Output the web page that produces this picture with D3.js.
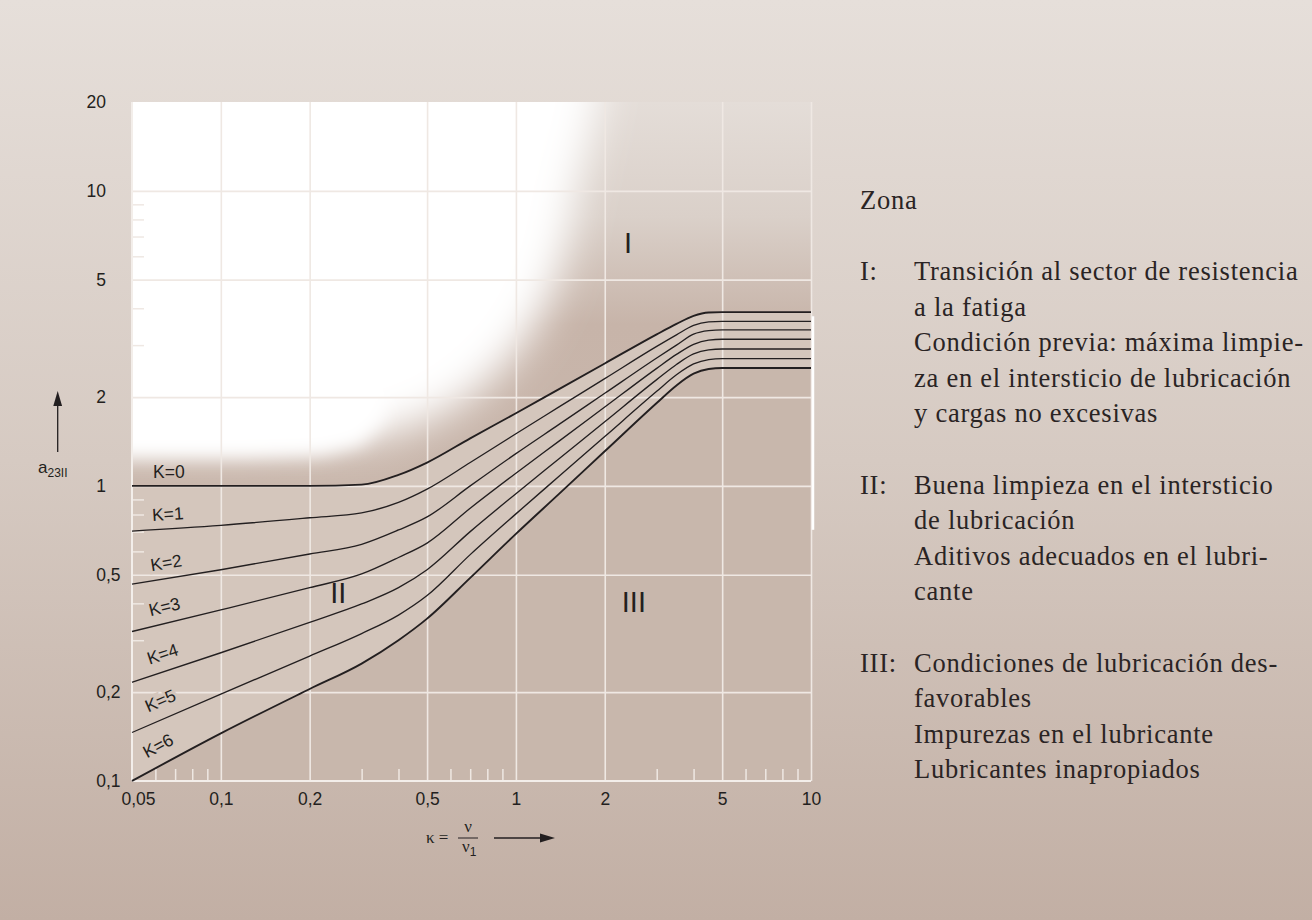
<!DOCTYPE html>
<html><head><meta charset="utf-8">
<script src="https://cdn.jsdelivr.net/npm/d3@7"></script>
<style>html,body{margin:0;padding:0;background:#d6cbc4;}</style>
</head><body>
<svg id="c" width="1312" height="920"></svg>
<script>
// ---------- data ----------
const kappa = [0.05,0.1,0.2,0.3,0.4,0.5,0.7,1,1.4,2,3,3.5,4,4.5,5,10];
const K0 = [1,1,1,1.01,1.09,1.2,1.45,1.763,2.129,2.6,3.263,3.54,3.77,3.87,3.88,3.88];
const K1 = [0.703,0.735,0.78,0.81,0.879,0.975,1.2,1.503,1.852,2.31,2.97,3.25,3.50,3.595,3.61,3.61];
const K2 = [0.465,0.52,0.588,0.634,0.709,0.785,1.0,1.286,1.616,2.06,2.714,3.0,3.27,3.36,3.38,3.38];
const K3 = [0.321,0.38,0.452,0.503,0.572,0.64,0.84,1.104,1.418,1.85,2.503,2.79,3.02,3.12,3.14,3.14];
const K4 = [0.216,0.272,0.345,0.398,0.452,0.52,0.70,0.941,1.236,1.65,2.292,2.58,2.80,2.89,2.91,2.91];
const K5 = [0.146,0.197,0.265,0.316,0.365,0.425,0.585,0.804,1.078,1.47,2.092,2.38,2.59,2.68,2.70,2.70];
const K6 = [0.1,0.145,0.205,0.25,0.30,0.355,0.488,0.688,0.94,1.31,1.91,2.19,2.40,2.49,2.51,2.51];
const seriesNames = ["K=0","K=1","K=2","K=3","K=4","K=5","K=6"];
const series = [K0,K1,K2,K3,K4,K5,K6];

const xMajor = [0.05,0.1,0.2,0.5,1,2,5,10];
const xMajorLabels = ["0,05","0,1","0,2","0,5","1","2","5","10"];
const xMinor = [0.06,0.07,0.08,0.09,0.3,0.4,0.6,0.7,0.8,0.9,3,4,6,7,8,9];
const yMajor = [0.1,0.2,0.5,1,2,5,10,20];
const yMajorLabels = ["0,1","0,2","0,5","1","2","5","10","20"];
const yMinor = [0.3,0.4,0.6,0.7,0.8,0.9,3,4,6,7,8,9];

// soft white zone (region I highlight), in data coordinates
const glowAK = [0.03,1.75,1.585,1.466,1.284,1.016,0.672,0.42,0.25,0.03];
const glowAA = [40,40,9.32,6.31,4.27,2.89,1.956,1.549,1.40,1.40];
const glowBK = [0.03,0.3,0.36,0.3,0.22,0.12,0.03];
const glowBA = [40,40,1.7,1.38,1.27,1.245,1.245];

const zoneLabels = ["I","II","III"];
const zoneK = [2.4,0.25,2.51];
const zoneA = [6.67,0.434,0.407];

const legendTitle = "Zona";
const legendKeys = ["I:","II:","III:"];
const legendLines = [
  ["Transición al sector de resistencia","a la fatiga","Condición previa: máxima limpie-","za en el intersticio de lubricación","y cargas no excesivas"],
  ["Buena limpieza en el intersticio","de lubricación","Aditivos adecuados en el lubri-","cante"],
  ["Condiciones de lubricación des-","favorables","Impurezas en el lubricante","Lubricantes inapropiados"]
];

// ---------- setup ----------
const svg = d3.select("#c");
const defs = svg.append("defs");
const W = 1312, H = 920;
const x = d3.scaleLog().domain([0.05,10]).range([132,811]);
const y = d3.scaleLog().domain([0.1,20]).range([781,102]);
const X0 = x.range()[0], X1 = x.range()[1], Y0 = y.range()[0], Y1 = y.range()[1];

const bg = defs.append("linearGradient").attr("id","bg").attr("x1",0).attr("y1",0).attr("x2",0).attr("y2",1);
bg.append("stop").attr("offset","0%").attr("stop-color","#e6dfda");
bg.append("stop").attr("offset","50%").attr("stop-color","#d6cac2");
bg.append("stop").attr("offset","100%").attr("stop-color","#c2afa4");
svg.append("rect").attr("width",W).attr("height",H).attr("fill","url(#bg)");

const gI = defs.append("linearGradient").attr("id","gI").attr("gradientUnits","userSpaceOnUse")
  .attr("x1",0).attr("y1",Y1).attr("x2",0).attr("y2",y(1));
gI.append("stop").attr("offset","0%").attr("stop-color","#e4ddd8");
gI.append("stop").attr("offset","30%").attr("stop-color","#dad0c9");
gI.append("stop").attr("offset","58%").attr("stop-color","#c7b4a9");
gI.append("stop").attr("offset","100%").attr("stop-color","#c9b7ac");

function blurFilter(id, sd){
  const f = defs.append("filter").attr("id",id).attr("filterUnits","userSpaceOnUse")
    .attr("x",0).attr("y",0).attr("width",W).attr("height",H);
  f.append("feGaussianBlur").attr("stdDeviation",sd);
}
blurFilter("blurA",20);
blurFilter("blurB",9);

const line = d3.line().x((d,i)=>x(kappa[i])).y(d=>y(d)).curve(d3.curveMonotoneX);

// clip: region above K=0
const areaI = d3.area().x((d,i)=>x(kappa[i])).y0(d=>y(d)).y1(Y1).curve(d3.curveMonotoneX);
defs.append("clipPath").attr("id","clipI").append("path").attr("d", areaI(K0));

// region III (plot background)
svg.append("rect").attr("x",X0).attr("y",Y1).attr("width",X1-X0).attr("height",Y0-Y1).attr("fill","#c8b7ac");
// region II
const areaII = d3.area().x((d,i)=>x(kappa[i])).y0((d,i)=>y(K6[i])).y1(d=>y(d)).curve(d3.curveMonotoneX);
svg.append("path").attr("d", areaII(K0)).attr("fill","#d4c6bc");
// region I
const gReg = svg.append("g").attr("clip-path","url(#clipI)");
gReg.append("rect").attr("x",X0).attr("y",Y1).attr("width",X1-X0).attr("height",Y0-Y1).attr("fill","url(#gI)");
const glowA = d3.line().x((d,i)=>x(glowAK[i])).y(d=>y(d)).curve(d3.curveCatmullRom);
const glowB = d3.line().x((d,i)=>x(glowBK[i])).y(d=>y(d)).curve(d3.curveLinear);
gReg.append("path").attr("d", glowA(glowAA)+"Z").attr("fill","#ffffff").attr("filter","url(#blurA)");
gReg.append("path").attr("d", glowB(glowBA)+"Z").attr("fill","#ffffff").attr("filter","url(#blurB)");

// gridlines
const gridCol = "#efe8e3";
svg.append("g").attr("transform",`translate(0,${Y0})`)
  .call(d3.axisBottom(x).tickValues(xMajor.slice(1)).tickSize(-(Y0-Y1)).tickFormat(""))
  .call(g=>g.select(".domain").remove())
  .call(g=>g.selectAll("line").attr("stroke",gridCol).attr("stroke-width",1.6));
svg.append("g").attr("transform",`translate(${X0},0)`)
  .call(d3.axisLeft(y).tickValues([0.2,0.5,1,2,5,10]).tickSize(-(X1-X0)).tickFormat(""))
  .call(g=>g.select(".domain").remove())
  .call(g=>g.selectAll("line").attr("stroke",gridCol).attr("stroke-width",1.6));
// minor ticks
svg.append("g").attr("transform",`translate(0,${Y0})`)
  .call(d3.axisBottom(x).tickValues(xMinor).tickSize(-12).tickFormat(""))
  .call(g=>g.select(".domain").remove())
  .call(g=>g.selectAll("line").attr("stroke",gridCol).attr("stroke-width",1.5));
svg.append("g").attr("transform",`translate(${X0},0)`)
  .call(d3.axisLeft(y).tickValues(yMinor).tickSize(-12).tickFormat(""))
  .call(g=>g.select(".domain").remove())
  .call(g=>g.selectAll("line").attr("stroke",gridCol).attr("stroke-width",1.5));
// axis lines
svg.append("line").attr("x1",X0).attr("x2",X1).attr("y1",Y0).attr("y2",Y0).attr("stroke","#f3eeea").attr("stroke-width",2);
svg.append("line").attr("x1",X0).attr("x2",X0).attr("y1",Y1).attr("y2",Y0).attr("stroke","#f3eeea").attr("stroke-width",2);
svg.append("line").attr("x1",X1+2).attr("x2",X1+2).attr("y1",y(4.0)+8).attr("y2",y(0.71)).attr("stroke","#ffffff").attr("stroke-width",2.5);

// curves
svg.append("g").selectAll("path").data(series).join("path")
  .attr("d", d=>line(d)).attr("fill","none").attr("stroke","#231f20")
  .attr("stroke-width",(d,i)=> (i===0||i===6)?1.9:1.35);

// K labels
const sans = "'Liberation Sans', Arial, Helvetica, sans-serif";
const lx = 153;
svg.append("g").selectAll("text").data(series).join("text")
  .attr("transform",(d,i)=>{
    const x0=x(kappa[0]), x1=x(kappa[1]), y0=y(d[0]), y1=y(d[1]);
    const s=(y1-y0)/(x1-x0);
    const py=y0+(lx-x0)*s;
    const ang=Math.atan(s);
    return `translate(${lx},${py}) rotate(${ang*180/Math.PI})`;
  })
  .attr("y",(d,i)=>{
    const s=(y(d[1])-y(d[0]))/(x(kappa[1])-x(kappa[0]));
    return -(8+10*Math.abs(Math.sin(Math.atan(s))));
  })
  .attr("font-family",sans).attr("font-size",17.5).attr("fill","#231f20")
  .attr("stroke",(d,i)=>i===0?"none":"#d4c6bc").attr("stroke-width",6).attr("paint-order","stroke")
  .text((d,i)=>seriesNames[i]);

// zone labels
svg.append("g").selectAll("text").data(zoneLabels).join("text")
  .attr("x",(d,i)=>x(zoneK[i])).attr("y",(d,i)=>y(zoneA[i]))
  .attr("text-anchor","middle").attr("dy","0.36em")
  .attr("font-family",sans).attr("font-size",29).attr("fill","#231f20").text(d=>d);

// x tick labels
svg.append("g").attr("transform",`translate(0,${Y0})`)
  .call(d3.axisBottom(x).tickValues(xMajor).tickSize(0).tickPadding(12).tickFormat((d,i)=>xMajorLabels[i]))
  .call(g=>g.select(".domain").remove())
  .call(g=>g.selectAll("text").attr("font-family",sans).attr("font-size",17.5).attr("fill","#231f20")
     .attr("dx",(d,i)=>i===0?6:0));

// y tick labels (aligned on decimal comma)
const yl = svg.append("g");
const yAlign = 106;
yMajor.forEach((v,i)=>{
  const parts = yMajorLabels[i].split(",");
  yl.append("text").attr("x",yAlign).attr("y",y(v)).attr("dy","0.36em")
    .attr("font-family",sans).attr("font-size",17.5).attr("fill","#231f20")
    .attr("text-anchor","end").text(parts[0]);
  if(parts.length>1){
    yl.append("text").attr("x",yAlign).attr("y",y(v)).attr("dy","0.36em")
      .attr("font-family",sans).attr("font-size",17.5).attr("fill","#231f20")
      .attr("text-anchor","start").text(","+parts[1]);
  }
});

// y axis title with arrow
const ya = svg.append("g");
ya.append("line").attr("x1",57.7).attr("x2",57.7).attr("y1",452).attr("y2",402).attr("stroke","#231f20").attr("stroke-width",1.3);
ya.append("path").attr("d","M57.7,391 L53.3,406 L62.1,406 Z").attr("fill","#231f20");
const yt = ya.append("text").attr("x",38).attr("y",473).attr("font-family",sans).attr("font-size",17).attr("fill","#231f20");
yt.append("tspan").text("a");
yt.append("tspan").attr("font-size",12).attr("dy",4).text("23II");

// x axis title
const serif = "'Liberation Serif', 'Times New Roman', serif";
const xa = svg.append("g").attr("fill","#231f20");
xa.append("text").attr("x",426).attr("y",843).attr("font-family",serif).attr("font-size",17).text("κ =");
xa.append("text").attr("x",468).attr("y",832).attr("text-anchor","middle").attr("font-family",serif).attr("font-size",17).text("ν");
xa.append("line").attr("x1",458).attr("x2",478).attr("y1",838).attr("y2",838).attr("stroke","#231f20").attr("stroke-width",1);
const nu1 = xa.append("text").attr("x",462).attr("y",852).attr("font-family",serif).attr("font-size",17);
nu1.append("tspan").text("ν");
nu1.append("tspan").attr("font-family",sans).attr("font-size",12).attr("dy",4).text("1");
xa.append("line").attr("x1",494).attr("x2",542).attr("y1",838).attr("y2",838).attr("stroke","#231f20").attr("stroke-width",1.3);
xa.append("path").attr("d","M555,838 L540,833.6 L540,842.4 Z").attr("fill","#231f20");

// legend
const lg = svg.append("g").attr("font-family",serif).attr("font-size",26.5).attr("fill","#2a2424").attr("letter-spacing","0.75px");
const keyX = 860, txtX = 914, lh = 35.6;
lg.append("text").attr("x",keyX).attr("y",280-2*lh).text(legendTitle);
let yy = 280;
legendKeys.forEach((k,i)=>{
  lg.append("text").attr("x",keyX).attr("y",yy).text(k);
  legendLines[i].forEach((s,j)=>{
    lg.append("text").attr("x",txtX).attr("y",yy+j*lh).text(s);
  });
  yy += (legendLines[i].length+1)*lh;
});
</script>
</body></html>
